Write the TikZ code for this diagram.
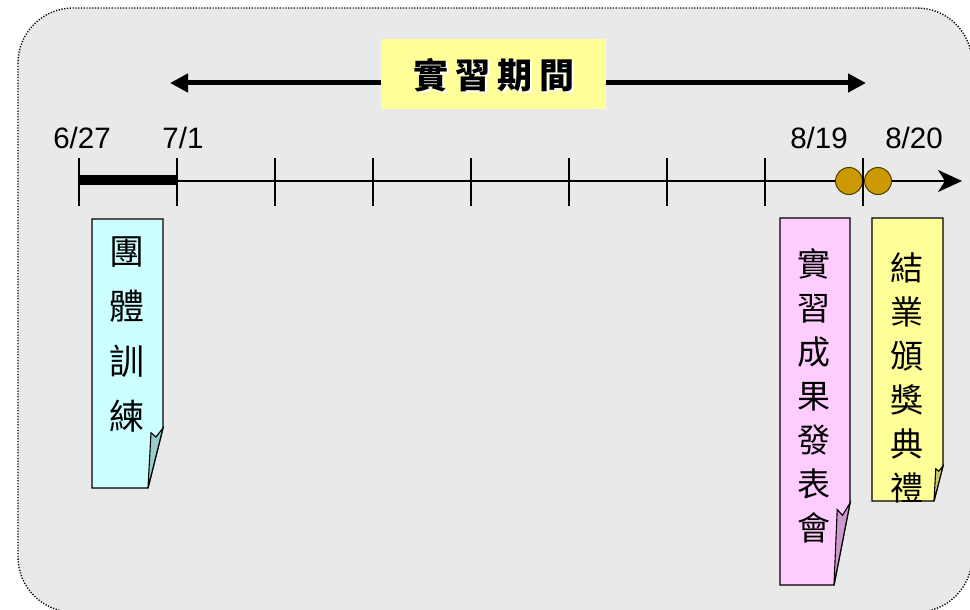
\documentclass[tikz,border=0pt]{standalone}
\usepackage{fontspec}
\setmainfont{Liberation Sans}
\newfontfamily\cjk{Noto Sans CJK TC}
\usetikzlibrary{arrows.meta}
\definecolor{bggray}{HTML}{E9E9E9}
\definecolor{cyanN}{HTML}{CCFFFF}
\definecolor{cyanF}{HTML}{99CCCC}
\definecolor{pinkN}{HTML}{FFCCFF}
\definecolor{pinkF}{HTML}{CC99CC}
\definecolor{yelN}{HTML}{FFFF99}
\definecolor{yelF}{HTML}{CCCC66}
\definecolor{gold}{HTML}{CC9900}
\newcommand\notepaper[8]{%
  \draw[fill=#7, line width=1.3] (#1,#2) -- (#3,#2) -- (#3,#4-#6) -- (#3-#5,#4) -- (#1,#4) -- cycle;
  \draw[fill=#8, line width=1.1] (#3-#5,#4) -- (#3-0.8*#5,#4-0.92*#6) -- (#3-0.47*#5,#4-0.85*#6) -- (#3,#4-#6) -- cycle;}
\tikzset{
  datelabel/.style={font=\fontsize{29.5}{30}\selectfont, anchor=base, inner sep=0},
  vtext/.style={font=\cjk\fontsize{35}{55}\selectfont, align=center, inner sep=0},
  vtextb/.style={font=\cjk\fontsize{33}{44}\selectfont, align=center, inner sep=0},
  tick/.style={line width=1.4},
}
\begin{document}
\begin{tikzpicture}[x=1pt,y=-1pt]
\useasboundingbox (0,0) rectangle (970,610);
\draw[fill=bggray, dash pattern=on 1.2pt off 1.6pt, line width=1.4, rounded corners=55pt] (18,8) rectangle (972,612);

% period arrow and label
\coordinate (pl) at (170,83);
\coordinate (pr) at (866,83);
\draw[line width=5, {Triangle[length=18,width=18]}-{Triangle[length=18,width=18]}] (pl) -- (pr);
\node[fill=yelN, minimum width=225, minimum height=70, inner sep=0] (period) at (493.5,74) {};
\node[font=\cjk\bfseries\fontsize{35}{40}\selectfont, text=white, inner sep=0] (periodsh) at (495.5,77) {實\hspace{7pt}習\hspace{7pt}期\hspace{7pt}間};
\node[font=\cjk\bfseries\fontsize{35}{40}\selectfont, inner sep=0] (periodtxt) at (494,75.5) {實\hspace{7pt}習\hspace{7pt}期\hspace{7pt}間};

% axis
\coordinate (a0) at (79,181);
\coordinate (aend) at (962,181);
\draw[line width=1.4, -{Stealth[length=24,width=22,inset=7]}] (a0) -- (aend);
\coordinate (b1) at (177,180);
\draw[line width=10] (79,180) -- (b1);

\node[circle, fill=gold, draw=black!60!gold, line width=1, minimum size=27, inner sep=0] (c1) at (849,181) {};
\node[circle, fill=gold, draw=black!60!gold, line width=1, minimum size=27, inner sep=0] (c2) at (878,181) {};

\foreach \i in {0,...,8} \draw[tick] (79+98*\i,158) -- (79+98*\i,206);

\node[datelabel] (l1) at (82,148) {6/27};
\node[datelabel] (l2) at (183,148) {7/1};
\node[datelabel] (l3) at (819,148) {8/19};
\node[datelabel] (l4) at (914,148) {8/20};

% notes
\notepaper{92}{219}{163}{488}{15}{60}{cyanN}{cyanF}
\node[vtext] (n1) at (127,335) {團\\體\\訓\\練};

\notepaper{780}{218}{850}{585}{16}{82}{pinkN}{pinkF}
\node[vtextb] (n2) at (814,396) {實\\習\\成\\果\\發\\表\\會};

\notepaper{872}{218}{943}{501}{9}{35}{yelN}{yelF}
\node[vtextb] (n3) at (907,378) {結\\業\\頒\\獎\\典\\禮};
\end{tikzpicture}
\end{document}
